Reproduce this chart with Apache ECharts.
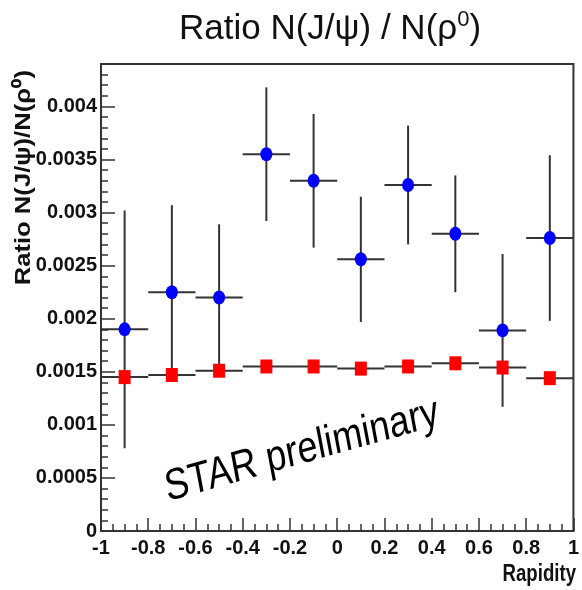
<!DOCTYPE html>
<html>
<head>
<meta charset="utf-8">
<script src="https://cdn.jsdelivr.net/npm/echarts@6/dist/echarts.min.js"></script>
<style>
  html, body { margin: 0; padding: 0; background: #fff; }
  #chart { width: 582px; height: 590px; }
</style>
</head>
<body>
<div id="chart"></div>
<script>
// bin centres in rapidity, each bin is 0.2 wide
const rapidity = [-0.9, -0.7, -0.5, -0.3, -0.1, 0.1, 0.3, 0.5, 0.7, 0.9];
const binHalfWidth = 0.1;

// blue points
const ratioBlue = [0.00190, 0.00225, 0.00220, 0.00355, 0.00330, 0.00256, 0.00326, 0.00280, 0.00189, 0.00276];
const errBlue = [0.00112, 0.00082, 0.00069, 0.00063, 0.00063, 0.00059, 0.00056, 0.00055, 0.00072, 0.00078];

// red points (errors smaller than the marker)
const ratioRed = [0.00145, 0.00147, 0.00151, 0.00155, 0.00155, 0.00153, 0.00155, 0.00158, 0.00154, 0.00144];
const errRed = [0.00004, 0.00004, 0.00004, 0.00004, 0.00004, 0.00004, 0.00004, 0.00004, 0.00004, 0.00004];

const SANS = "'Liberation Sans', Arial, sans-serif";
const INK = '#333';

const blueData = rapidity.map((x, i) => [x, ratioBlue[i], errBlue[i]]);
const redData = rapidity.map((x, i) => [x, ratioRed[i], errRed[i]]);

// horizontal bin bar + vertical error bar for one point
function renderErrorBars(params, api) {
  const x = api.value(0);
  const y = api.value(1);
  const e = api.value(2);
  const left = api.coord([x - binHalfWidth, y]);
  const right = api.coord([x + binHalfWidth, y]);
  const top = api.coord([x, y + e]);
  const bottom = api.coord([x, y - e]);
  const style = { stroke: INK, lineWidth: 2 };
  return {
    type: 'group',
    children: [
      { type: 'line', shape: { x1: left[0], y1: left[1], x2: right[0], y2: right[1] }, style },
      { type: 'line', shape: { x1: top[0], y1: top[1], x2: bottom[0], y2: bottom[1] }, style }
    ]
  };
}

const tickLabel = {
  fontFamily: SANS,
  fontWeight: 'bold',
  fontSize: 20,
  color: '#111'
};

const chart = echarts.init(document.getElementById('chart'));

const option = {
  animation: false,
  backgroundColor: '#fff',
  title: {
    text: '{a|Ratio N(J/ψ) / N(ρ}{s|0}{a|)}',
    left: 174,
    top: 4,
    textStyle: {
      rich: {
        a: { fontFamily: SANS, fontWeight: 'normal', fontSize: 35, lineHeight: 40, color: '#111' },
        s: { fontFamily: SANS, fontWeight: 'normal', fontSize: 22, lineHeight: 22, color: '#111', verticalAlign: 'top' }
      }
    }
  },
  grid: {
    left: 101, right: 6, top: 64, bottom: 59,
    show: true,
    borderColor: INK,
    borderWidth: 2
  },
  xAxis: {
    type: 'value',
    min: -1,
    max: 1,
    interval: 0.2,
    axisLine: { show: true, onZero: false, lineStyle: { color: INK, width: 2 } },
    axisTick: { show: true, inside: true, length: 13, lineStyle: { color: INK, width: 1.5 } },
    minorTick: { show: true, splitNumber: 4, length: 7, lineStyle: { color: INK, width: 1.5 } },
    splitLine: { show: false },
    axisLabel: Object.assign({ margin: 7, formatter: v => String(+v.toFixed(1)) }, tickLabel)
  },
  yAxis: {
    type: 'value',
    min: 0,
    max: 0.0044,
    interval: 0.0005,
    axisLine: { show: true, onZero: false, lineStyle: { color: INK, width: 2 } },
    axisTick: { show: true, inside: true, length: 14, lineStyle: { color: INK, width: 1.5 } },
    minorTick: { show: true, splitNumber: 5, length: 7, lineStyle: { color: INK, width: 1.5 } },
    splitLine: { show: false },
    axisLabel: Object.assign({ margin: 4, showMaxLabel: false, formatter: v => String(+v.toFixed(4)) }, tickLabel)
  },
  graphic: [
    {
      // y axis title, stretched along its length like the original
      type: 'text',
      x: 24,
      y: 70,
      rotation: Math.PI / 2,
      scaleX: 1.165,
      style: {
        text: 'Ratio N(J/ψ)/N(ρ⁰)',
        font: 'bold 22px ' + SANS,
        fill: '#111',
        align: 'right',
        verticalAlign: 'middle'
      }
    },
    {
      type: 'text',
      x: 576,
      y: 575,
      scaleX: 0.81,
      style: {
        text: 'Rapidity',
        font: 'bold 23px ' + SANS,
        fill: '#111',
        align: 'right',
        verticalAlign: 'middle'
      }
    },
    {
      // squeezed horizontally after rotation, as in the source image
      type: 'group',
      x: 302,
      y: 451,
      scaleX: 0.82,
      z: 1,
      children: [
        {
          type: 'text',
          rotation: 13 * Math.PI / 180,
          style: {
            text: 'STAR preliminary',
            font: '44px ' + SANS,
            fill: '#000',
            align: 'center',
            verticalAlign: 'middle'
          }
        }
      ]
    }
  ],
  series: [
    {
      name: 'blue errors',
      type: 'custom',
      renderItem: renderErrorBars,
      data: blueData,
      encode: { x: 0, y: 1 },
      z: 2
    },
    {
      name: 'red errors',
      type: 'custom',
      renderItem: renderErrorBars,
      data: redData,
      encode: { x: 0, y: 1 },
      z: 2
    },
    {
      name: 'blue',
      type: 'scatter',
      data: blueData,
      symbol: 'circle',
      symbolSize: [12, 14],
      itemStyle: { color: '#0000ff', opacity: 1 },
      z: 5
    },
    {
      name: 'red',
      type: 'scatter',
      data: redData,
      symbol: 'rect',
      symbolSize: [12, 14],
      itemStyle: { color: '#ff0000', opacity: 1 },
      z: 5
    }
  ]
};

chart.setOption(option);
</script>
</body>
</html>
